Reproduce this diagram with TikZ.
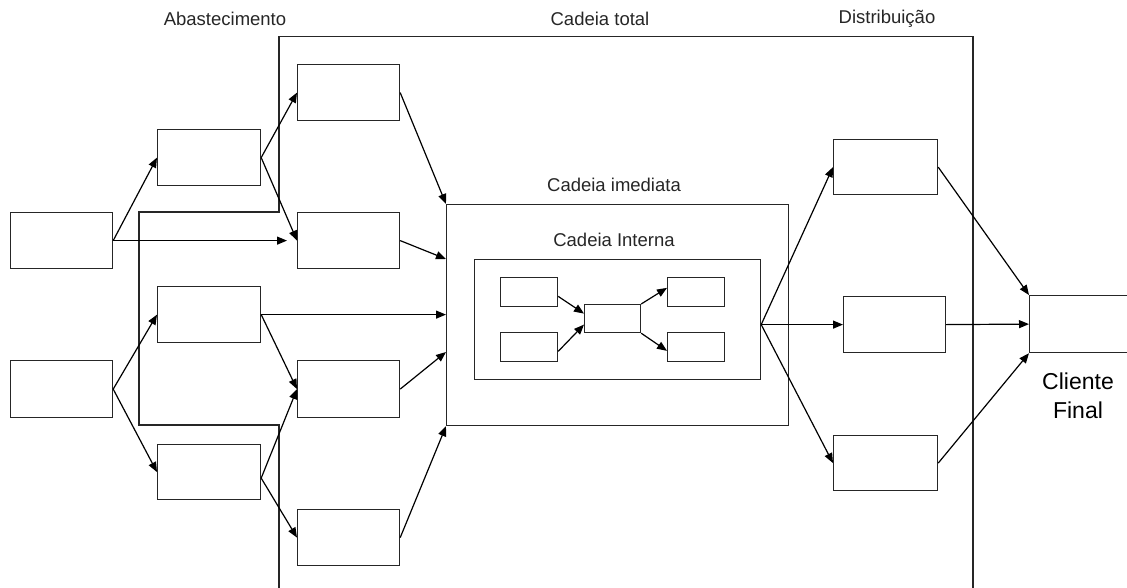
\documentclass[tikz,border=0pt]{standalone}
\usepackage{fontspec}
\setmainfont{Liberation Sans}
\usetikzlibrary{arrows.meta,calc}
\begin{document}
\begin{tikzpicture}[x=1pt,y=-1pt,
  box/.style={draw=black!85, line width=1.2pt, inner sep=0pt, anchor=north west},
  main/.style={box, minimum width=102pt, minimum height=56pt},
  small/.style={box, minimum width=57pt, minimum height=28.5pt},
  frame/.style={draw=black!85, line width=1.2pt},
  link/.style={draw=black, line width=1.2pt, -{Triangle[length=10pt,width=8pt]}},
  lbl/.style={font=\fontsize{18.5}{22}\selectfont, text=black!85, inner sep=0pt}]

\useasboundingbox (0,0) rectangle (1127,587);
\clip (0,0) rectangle (1127,587);

% outline of the whole chain (runs past the lower edge)
\draw[frame] (279,600) -- (279,425) -- (139,425) -- (139,212) -- (279,212)
  -- (279,36.5) -- (973,36.5) -- (973,600);

% headings
\node[lbl] (tAbast) at (225,19) {Abastecimento};
\node[lbl] (tTotal) at (600,19) {Cadeia total};
\node[lbl] (tDist) at (887,19) {Distribuição};
\node[lbl] (tImm) at (614,185) {Cadeia imediata};
\node[lbl] (tInt) at (614,240) {Cadeia Interna};
\node[font=\fontsize{23}{28.5}\selectfont, align=center, inner sep=0pt] (tCli) at (1078,396) {Cliente\\Final};

% supply tiers
\node[main] (A1) at (10,212) {};
\node[main, minimum height=57pt] (A2) at (10,360) {};
\node[main, minimum width=103pt] (B1) at (157,129) {};
\node[main, minimum width=103pt] (B2) at (157,286) {};
\node[main, minimum width=103pt, minimum height=55pt] (B3) at (157,444) {};
\node[main] (C1) at (297,64) {};
\node[main] (C2) at (297,212) {};
\node[main, minimum height=57pt] (C3) at (297,360) {};
\node[main] (C4) at (297,509) {};

% immediate and internal chain
\node[box, minimum width=342pt, minimum height=221pt] (Imm) at (446,204) {};
\node[box, minimum width=286pt, minimum height=120pt] (Int) at (474,259) {};
\node[small] (I1) at (500,277) {};
\node[small] (I2) at (500,332) {};
\node[small, minimum width=56pt, minimum height=28pt] (IC) at (584,304) {};
\node[small] (O1) at (667,277) {};
\node[small] (O2) at (667,332) {};

% distribution and final customer
\node[main, minimum width=104pt, minimum height=55pt] (D1) at (833,139) {};
\node[main] (D2) at (843,296) {};
\node[main, minimum width=104pt, minimum height=55pt] (D3) at (833,435) {};
\node[box, minimum width=97.5pt, minimum height=57pt] (Cli) at (1029,295) {};

% supply flows
\draw[link] (A1.east) -- (B1.west);
\draw[link] (A1.east) -- ($(A1.east -| C2.west)+(-10,0)$);
\draw[link] (A2.east) -- (B2.west);
\draw[link] (A2.east) -- (B3.west);
\draw[link] (B1.east) -- (C1.west);
\draw[link] (B1.east) -- (C2.west);
\draw[link] (B2.east) -- (C3.west);
\draw[link] (B2.east) -- (B2.east -| Imm.west);
\coordinate (b3o) at ($(B3.east)+(0,6)$);
\draw[link] (b3o) -- (C3.west);
\draw[link] (b3o) -- (C4.west);
\draw[link] (C1.east) -- (Imm.north west);
\draw[link] (C2.east) -- ($(Imm.north west)+(0,55)$);
\draw[link] (C3.east) -- ($(Imm.north west)+(0,148)$);
\draw[link] (C4.east) -- (Imm.south west);

% internal flows
\draw[link] ($(I1.east)+(0,4.5)$) -- ($(IC.west)+(0,-5)$);
\draw[link] ($(I2.east)+(0,4.5)$) -- ($(IC.west)+(0,6)$);
\draw[link] (IC.north east) -- ($(O1.west)+(0,-4)$);
\draw[link] (IC.south east) -- ($(O2.west)+(0,4)$);

% distribution flows
\coordinate (fan) at ($(Int.east)+(0,5)$);
\draw[link] (fan) -- (D1.west);
\draw[link] (fan) -- (D2.west);
\draw[link] (fan) -- (D3.west);
\draw[link] (D1.east) -- (Cli.north west);
\draw[link] (D2.east) -- (Cli.west);
\draw[link] (D3.east) -- (Cli.south west);
\end{tikzpicture}
\end{document}
